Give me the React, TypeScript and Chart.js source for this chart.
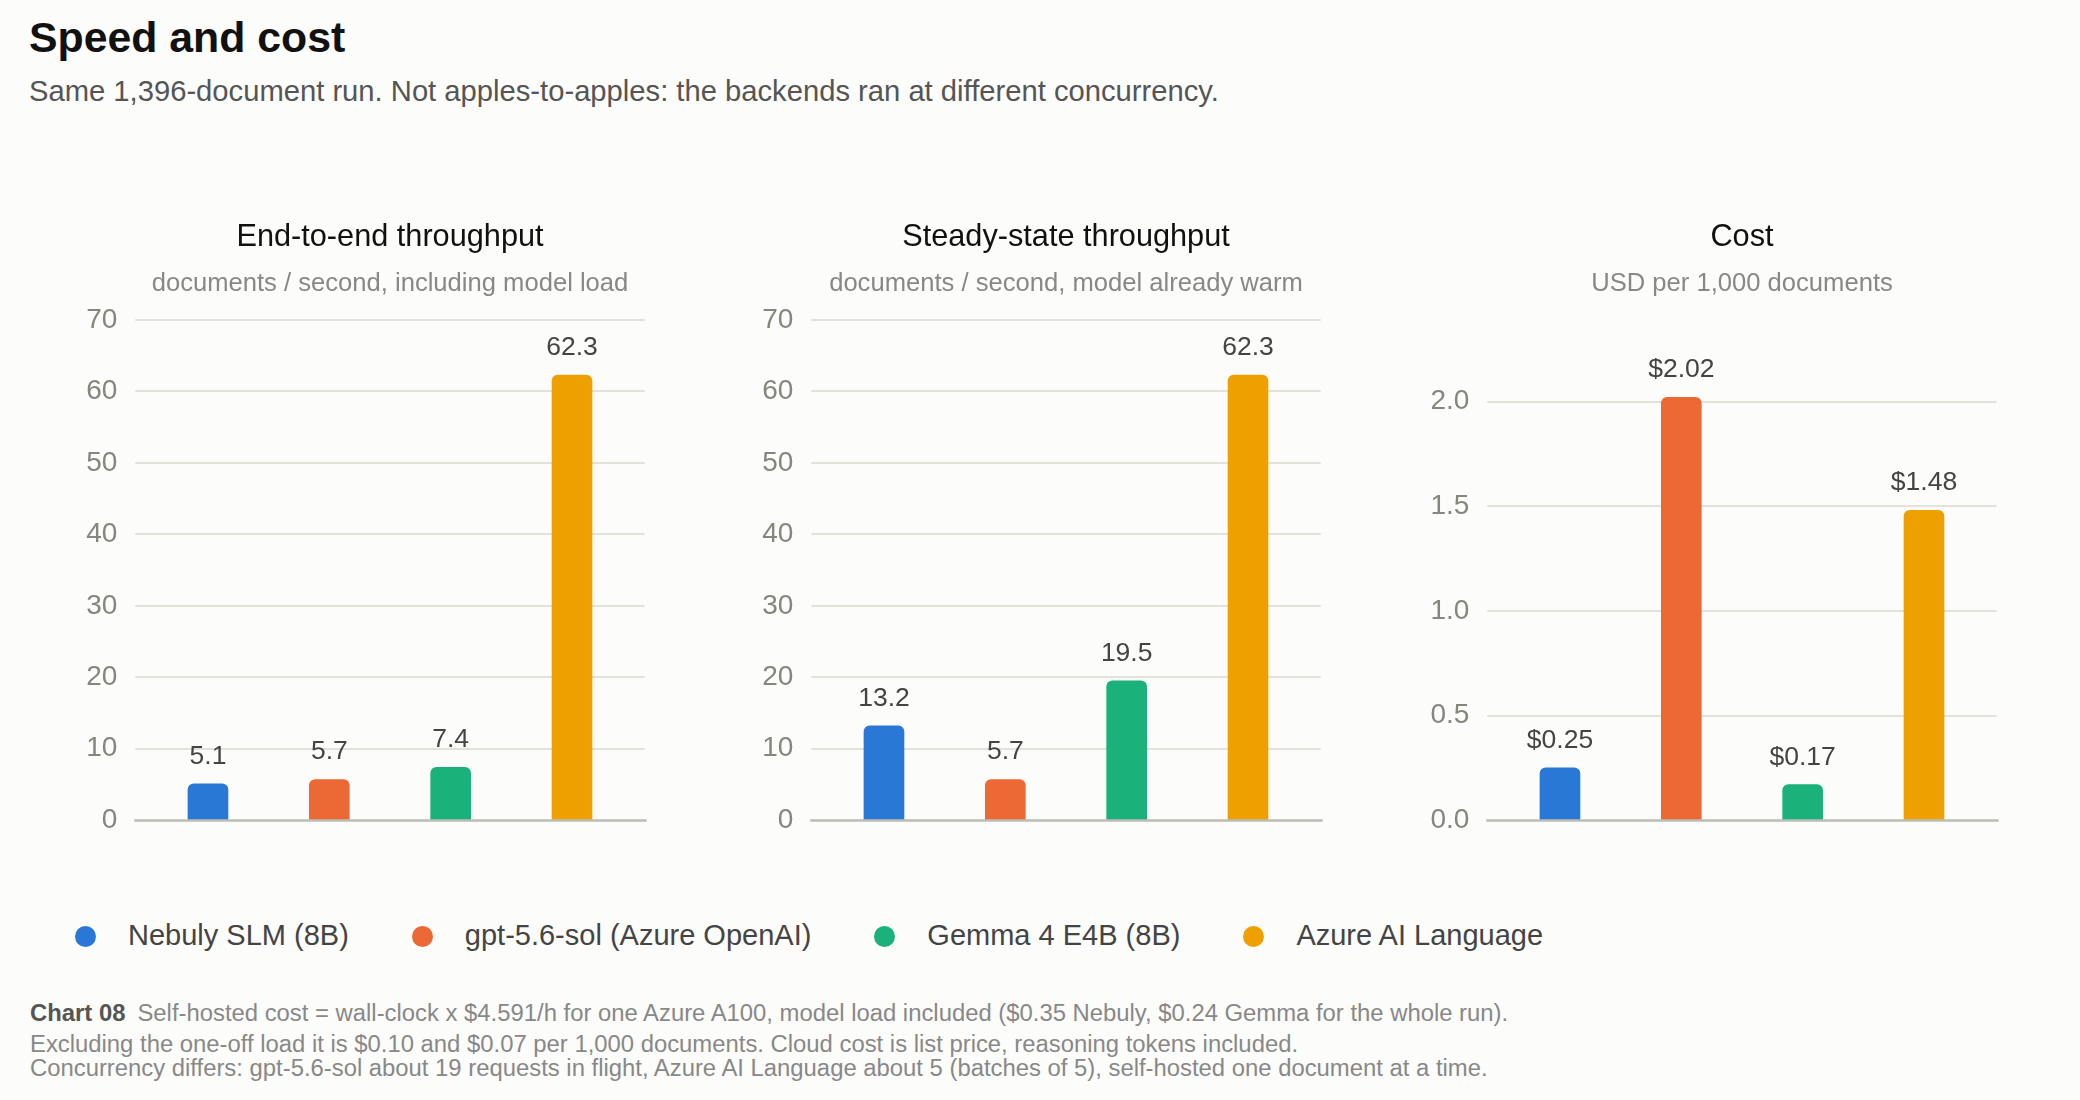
import { useEffect, useRef } from "react"
import { Chart, registerables, type Plugin } from "chart.js"
Chart.register(...registerables)

const FONT = "'Liberation Sans', Arial, Helvetica, sans-serif"
Chart.defaults.font.family = FONT

// series (one bar per backend, same order in every panel)
const MODELS = ["Nebuly SLM (8B)", "gpt-5.6-sol (Azure OpenAI)", "Gemma 4 E4B (8B)", "Azure AI Language"]
const COLORS = ["#2978d6", "#ec6834", "#1ab17b", "#eda000"]

// documents / second
const E2E_THROUGHPUT = [5.1, 5.7, 7.4, 62.3]
const STEADY_THROUGHPUT = [13.2, 5.7, 19.5, 62.3]
// USD per 1,000 documents
const COST_PER_1K = [0.25, 2.02, 0.17, 1.48]

const THROUGHPUT_MAX = 70
const THROUGHPUT_STEP = 10
const COST_MAX = 2.39
const COST_STEP = 0.5

const FOOTNOTES = [
  "Self-hosted cost = wall-clock x $4.591/h for one Azure A100, model load included ($0.35 Nebuly, $0.24 Gemma for the whole run).",
  "Excluding the one-off load it is $0.10 and $0.07 per 1,000 documents. Cloud cost is list price, reasoning tokens included.",
  "Concurrency differs: gpt-5.6-sol about 19 requests in flight, Azure AI Language about 5 (batches of 5), self-hosted one document at a time.",
]

// y gridlines a bit wider than the bar area, baseline drawn over the bars
const gridLines: Plugin<"bar"> = {
  id: "gridLines",
  beforeDatasetsDraw(chart) {
    const { ctx, chartArea } = chart
    const y = chart.scales.y
    ctx.save()
    ctx.strokeStyle = "#e2e2db"
    ctx.lineWidth = 2
    for (const t of y.ticks) {
      if (t.value === 0) continue
      const py = Math.round(y.getPixelForValue(t.value))
      ctx.beginPath()
      ctx.moveTo(chartArea.left - 12, py)
      ctx.lineTo(chartArea.right + 12, py)
      ctx.stroke()
    }
    ctx.restore()
  },
  afterDatasetsDraw(chart) {
    const { ctx, chartArea } = chart
    const py = Math.round(chart.scales.y.getPixelForValue(0)) + 0.5
    ctx.save()
    ctx.strokeStyle = "#bdbdb6"
    ctx.lineWidth = 2.5
    ctx.beginPath()
    ctx.moveTo(chartArea.left - 13, py)
    ctx.lineTo(chartArea.right + 14, py)
    ctx.stroke()
    ctx.restore()
  },
}

function valueLabels(fmt: (v: number) => string): Plugin<"bar"> {
  return {
    id: "valueLabels",
    afterDatasetsDraw(chart) {
      const { ctx } = chart
      const values = chart.data.datasets[0].data as number[]
      ctx.save()
      ctx.font = `26.5px ${FONT}`
      ctx.fillStyle = "#444"
      ctx.textAlign = "center"
      ctx.textBaseline = "alphabetic"
      chart.getDatasetMeta(0).data.forEach((bar, i) => {
        ctx.fillText(fmt(values[i]), bar.x, bar.y - 20)
      })
      ctx.restore()
    },
  }
}

type PanelProps = {
  left: number
  title: string
  subtitle: string
  values: number[]
  max: number
  step: number
  tickFmt: (v: number) => string
  valueFmt: (v: number) => string
}

function Panel({ left, title, subtitle, values, max, step, tickFmt, valueFmt }: PanelProps) {
  const canvasRef = useRef<HTMLCanvasElement>(null)

  useEffect(() => {
    if (!canvasRef.current) return
    const chart = new Chart(canvasRef.current, {
      type: "bar",
      data: {
        labels: MODELS,
        datasets: [{
          data: values,
          backgroundColor: COLORS,
          borderRadius: 6,
          barThickness: 40,
        }],
      },
      options: {
        responsive: true,
        maintainAspectRatio: false,
        animation: false,
        layout: { padding: 0 },
        plugins: {
          legend: { display: false },
          tooltip: { enabled: false },
          title: {
            display: true,
            text: title,
            color: "#111",
            font: { size: 30.7, weight: "normal" },
            padding: { top: 19.6, bottom: 6 },
          },
          subtitle: {
            display: true,
            text: subtitle,
            color: "#888",
            font: { size: 25.6 },
            padding: { top: 6.4, bottom: 20.4 },
          },
        },
        scales: {
          x: { display: false },
          y: {
            min: 0,
            max,
            border: { display: false },
            grid: { display: false, drawTicks: false },
            ticks: {
              stepSize: step,
              includeBounds: false,
              padding: 30,
              color: "#86867e",
              font: { size: 28 },
              callback: (v) => tickFmt(Number(v)),
            },
            afterFit: (s) => { s.width = 87.3 },
          },
          // empty axis on the right so the titles centre over the plot
          pad: {
            type: "linear",
            position: "right",
            border: { display: false },
            grid: { display: false, drawTicks: false },
            ticks: { display: false },
            afterFit: (s) => { s.width = 87.3 },
          },
        },
      },
      plugins: [gridLines, valueLabels(valueFmt)],
    })
    return () => chart.destroy()
  }, [title, subtitle, values, max, step, tickFmt, valueFmt])

  return (
    <div style={{ position: "absolute", left, top: 200, width: 660, height: 667 }}>
      <canvas ref={canvasRef} />
    </div>
  )
}

const fmtInt = (v: number) => String(v)
const fmtOne = (v: number) => v.toFixed(1)
const fmtUsd = (v: number) => "$" + v.toFixed(2)

const footStyle = { position: "absolute", left: 30, fontSize: 23.85, lineHeight: "24px", color: "#888", whiteSpace: "nowrap" } as const

export default function App() {
  return (
    <div style={{ position: "fixed", left: 0, top: 0, width: 2080, height: 1100, background: "#fcfcfa", fontFamily: FONT, overflow: "hidden" }}>
      <div style={{ position: "absolute", left: 29, top: 15.5, fontSize: 42.8, lineHeight: "42px", fontWeight: 700, color: "#111", whiteSpace: "nowrap" }}>
        Speed and cost
      </div>
      <div style={{ position: "absolute", left: 29, top: 77, fontSize: 29.2, lineHeight: "29px", color: "#555", whiteSpace: "nowrap" }}>
        Same 1,396-document run. Not apples-to-apples: the backends ran at different concurrency.
      </div>

      <Panel left={60} title="End-to-end throughput" subtitle="documents / second, including model load"
        values={E2E_THROUGHPUT} max={THROUGHPUT_MAX} step={THROUGHPUT_STEP} tickFmt={fmtInt} valueFmt={fmtOne} />
      <Panel left={736} title="Steady-state throughput" subtitle="documents / second, model already warm"
        values={STEADY_THROUGHPUT} max={THROUGHPUT_MAX} step={THROUGHPUT_STEP} tickFmt={fmtInt} valueFmt={fmtOne} />
      <Panel left={1412} title="Cost" subtitle="USD per 1,000 documents"
        values={COST_PER_1K} max={COST_MAX} step={COST_STEP} tickFmt={fmtOne} valueFmt={fmtUsd} />

      <div style={{ position: "absolute", left: 75, top: 921, display: "flex", alignItems: "center", height: 29, whiteSpace: "nowrap" }}>
        {MODELS.map((m, i) => (
          <div key={m} style={{ display: "flex", alignItems: "center", marginRight: 63 }}>
            <span style={{ width: 21, height: 21, borderRadius: "50%", background: COLORS[i], marginRight: 32, marginTop: 1 }} />
            <span style={{ fontSize: 29, lineHeight: "29px", color: "#444" }}>{m}</span>
          </div>
        ))}
      </div>

      <div style={{ ...footStyle, top: 1001.3 }}>
        <span style={{ fontWeight: 700, color: "#555", marginRight: 12 }}>Chart 08</span>
        {FOOTNOTES[0]}
      </div>
      <div style={{ ...footStyle, top: 1032.3 }}>{FOOTNOTES[1]}</div>
      <div style={{ ...footStyle, top: 1056.3 }}>{FOOTNOTES[2]}</div>
    </div>
  )
}
